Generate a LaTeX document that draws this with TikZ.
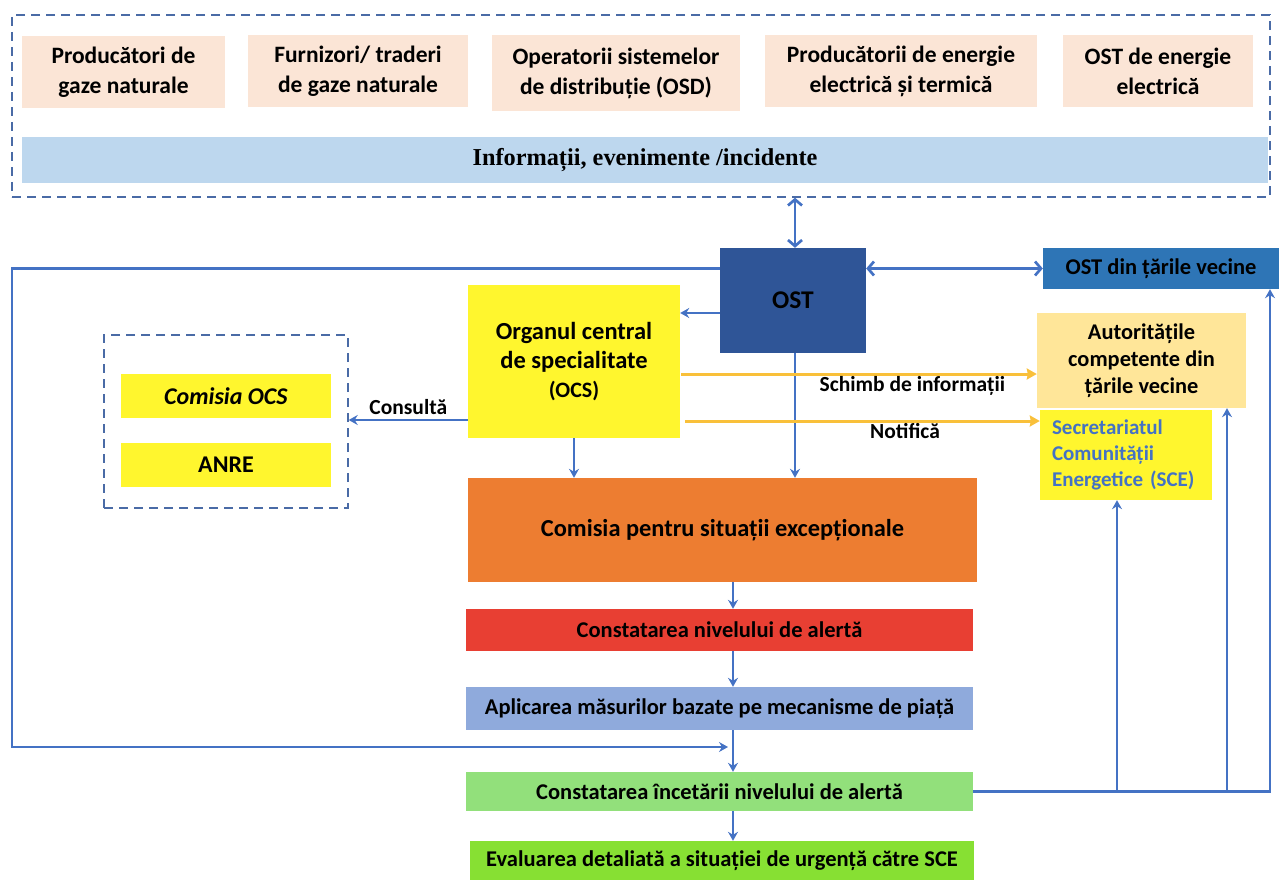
\documentclass[tikz,border=0pt]{standalone}
\usepackage{fontspec}
\setmainfont{Carlito}
\newfontfamily\serifbf{Liberation Serif}
\usepackage{tikz}
\usetikzlibrary{arrows,arrows.meta,shapes}
\definecolor{piersica}{HTML}{FBE5D6}
\definecolor{infobl}{HTML}{BDD7EE}
\definecolor{gri}{HTML}{4A6BA6}
\definecolor{sageata}{HTML}{4472C4}
\definecolor{ostbl}{HTML}{2F5597}
\definecolor{vecbl}{HTML}{2E75B6}
\definecolor{autgal}{HTML}{FFE699}
\definecolor{galben}{HTML}{FFF62E}
\definecolor{portoc}{HTML}{ED7D31}
\definecolor{rosu}{HTML}{E83F33}
\definecolor{lila}{HTML}{8FAADC}
\definecolor{verde1}{HTML}{92E07B}
\definecolor{verde2}{HTML}{87E033}
\definecolor{aur}{HTML}{F9C03A}

\begin{document}
\begin{tikzpicture}[>={Stealth[length=9bp,width=10bp,inset=3bp]},
  txt/.style={font=\bfseries\fontsize{22.5bp}{27bp}\selectfont,align=center},
  sus/.style={txt,fill=piersica,minimum height=72bp,font=\bfseries\fontsize{23.5bp}{30bp}\selectfont},
  lant/.style={txt,minimum width=507bp,font=\bfseries\fontsize{22.5bp}{26bp}\selectfont},
  fl/.style={->,line width=2.7bp,draw=sageata},
  fd/.style={{Straight Barb[length=6bp,width=14bp]}-{Straight Barb[length=6bp,width=14bp]},line width=2.7bp,draw=sageata},
  fg/.style={-{Stealth[length=10bp,width=11bp,inset=1bp]},line width=3bp,draw=aur},
  et/.style={txt,font=\bfseries\fontsize{21.5bp}{24bp}\selectfont,inner sep=1bp}]
\useasboundingbox (0,0) rectangle (1279bp,-880bp);
\node (GR) at (641bp,-106bp)[draw=gri,dashed,dash pattern=on 9bp off 6bp,line width=1.4bp,minimum width=1258bp,minimum height=182bp] {};
\node (P1) at (123.5bp,-72bp)[sus,minimum width=203bp] {Producători de\\gaze naturale};
\node (P2) at (358bp,-71bp)[sus,minimum width=220bp] {Furnizori/ traderi\\de gaze naturale};
\node (P3) at (616bp,-73bp)[sus,minimum width=248bp,minimum height=76bp] {Operatorii sistemelor\\de distribuție (OSD)};
\node (P4) at (901bp,-71bp)[sus,minimum width=272bp] {Producătorii de energie\\electrică și termică};
\node (P5) at (1158bp,-71bp)[sus,minimum width=190bp] {OST de energie\\electrică};
\node (INFO) at (645bp,-160bp)[fill=infobl,minimum width=1246bp,minimum height=46bp,font=\serifbf\bfseries\fontsize{24.3bp}{28bp}\selectfont] {Informații, evenimente /incidente};
\node (OST) at (793bp,-300.5bp)[txt,fill=ostbl,minimum width=146bp,minimum height=105bp,font=\bfseries\fontsize{25.5bp}{28bp}\selectfont] {OST};
\node (OSTV) at (1161bp,-268.5bp)[txt,fill=vecbl,minimum width=236bp,minimum height=41bp] {OST din țările vecine};
\node (AUT) at (1141.5bp,-360.5bp)[txt,fill=autgal,minimum width=209bp,minimum height=95bp,font=\bfseries\fontsize{22.4bp}{27bp}\selectfont] {Autoritățile\\competente din\\țările vecine};
\node (SCE) at (1126bp,-455bp)[txt,fill=galben,text=sageata,align=left,text width=148bp,inner xsep=12bp,minimum height=90bp,font=\bfseries\fontsize{21bp}{26bp}\selectfont] {Secretariatul\\Comunității\\Energetice (SCE)};
\node (OCS) at (574bp,-361.5bp)[txt,fill=galben,minimum width=212bp,minimum height=153bp,font=\bfseries\fontsize{24.5bp}{29bp}\selectfont] {Organul central\\de specialitate\\{\fontsize{22bp}{24bp}\selectfont(OCS)}};
\node (GRA) at (226bp,-421.5bp)[draw=gri,dashed,dash pattern=on 9bp off 6bp,line width=1.4bp,minimum width=244bp,minimum height=173bp] {};
\node (COCS) at (226bp,-396bp)[txt,fill=galben,minimum width=210bp,minimum height=44bp,font=\bfseries\fontsize{24bp}{27bp}\selectfont] {\textit{Comisia OCS}};
\node (ANRE) at (226bp,-465bp)[txt,fill=galben,minimum width=210bp,minimum height=44bp,font=\bfseries\fontsize{24bp}{27bp}\selectfont] {ANRE};
\node (CSE) at (722.5bp,-530bp)[lant,fill=portoc,minimum width=509bp,minimum height=104bp,font=\bfseries\fontsize{24.4bp}{27bp}\selectfont] {Comisia pentru situații excepționale};
\node (N1) at (719.5bp,-630bp)[lant,fill=rosu,minimum height=42bp] {Constatarea nivelului de alertă};
\node (N2) at (719.5bp,-708.5bp)[lant,fill=lila,minimum height=43bp] {Aplicarea măsurilor bazate pe mecanisme de piață};
\node (N3) at (719.5bp,-791.5bp)[lant,fill=verde1,minimum height=39bp] {Constatarea încetării nivelului de alertă};
\node (N4) at (722bp,-860.5bp)[lant,fill=verde2,minimum width=504bp,minimum height=39bp] {Evaluarea detaliată a situației de urgență către SCE};
\coordinate (AX) at (733bp,0);
\coordinate (COLT) at (12bp,-747bp);
\coordinate (INTR) at (728bp,-747bp);
\coordinate (D0) at (1270bp,-791.5bp);
\coordinate (D1) at (1117bp,-791.5bp);
\coordinate (D2) at (1227bp,-791.5bp);
\draw [fd] ([xshift=2bp]GR.south -| OST) -- ([xshift=2bp]OST.north);
\draw [fd] (OST.east |- OSTV.west) -- (OSTV.west);
\draw [fl] (OST.west |- OSTV.west) -| (COLT) -- (INTR);
\draw [fl] ([yshift=-12.5bp]OST.west) -- ([yshift=-12.5bp]OST.west -| OCS.east);
\draw [fl] ([yshift=-58.5bp]OCS.west) -- ([yshift=-58.5bp]OCS.west -| GRA.east) node[midway,above,et,yshift=3bp] {Consultă};
\draw [fl] (OCS.south) -- (OCS.south |- CSE.north);
\draw [fl] ([xshift=2bp]OST.south) -- ([xshift=2bp]OST.south |- CSE.north);
\draw [fg] ([yshift=-12.5bp,xshift=1bp]OCS.east) -- ([yshift=-12.5bp]OCS.east -| AUT.west) node[pos=0.65,below,et] {Schimb de informații};
\draw [fg] ([yshift=-59.5bp,xshift=5bp]OCS.east) -- ([yshift=-59.5bp]OCS.east -| SCE.west) node[pos=0.62,below,et] {Notifică};
\draw [fl] (CSE.south -| AX) -- (N1.north -| AX);
\draw [fl] (N1.south -| AX) -- (N2.north -| AX);
\draw [fl] (N2.south -| AX) -- (N3.north -| AX);
\draw [fl] (N3.south -| AX) -- (N4.north -| AX);
\draw [fl] (N3.east) -- (D0) -- (D0 |- OSTV.south);
\draw [fl] (D1) -- (D1 |- SCE.south);
\draw [fl] (D2) -- (D2 |- AUT.south);
\end{tikzpicture}
\end{document}
